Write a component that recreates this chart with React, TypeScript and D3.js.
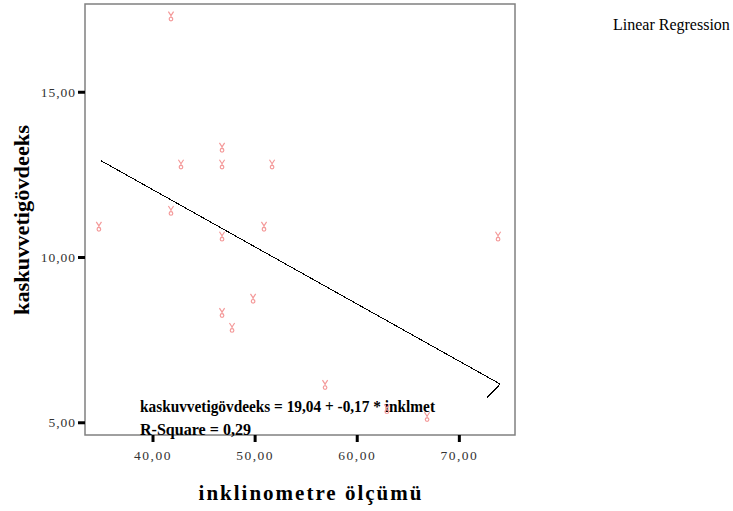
import React from "react";
import * as d3 from "d3";

const pointsX = [34.7, 41.76, 42.74, 41.76, 46.76, 46.76, 46.76, 51.66, 50.87, 49.8, 46.76, 47.74, 56.85, 62.9, 66.84, 73.79];
const pointsY = [10.94, 17.3, 12.82, 11.42, 13.33, 12.82, 10.64, 12.82, 10.94, 8.76, 8.33, 7.88, 6.15, 5.42, 5.18, 10.64];
const lineX = [34.9, 74.0, 72.7];
const lineY = [12.93, 6.17, 5.76];
const xTicks = [40, 50, 60, 70];
const yTicks = [5, 10, 15];
const fmt = (v: number) => v.toFixed(2).replace(".", ",");

const W = 733, H = 511;
const L = 85, R = 515, T = 4, B = 435;

export default function App() {
  const x = d3.scaleLinear().domain([33.34, 75.45]).range([L, R]);
  const y = d3.scaleLinear().domain([4.63, 17.67]).range([B, T]);
  const lineGen = d3.line<number>().x((d) => x(d)).y((_, i) => y(lineY[i]));
  const serif = "'Liberation Serif', 'Times New Roman', serif";
  const markerPath = "M-2.6,-4.6 L0,-0.6 L2.6,-4.6 M0,-0.6 L0,1 M-1.8,2.8 A1.8,1.8 0 1 0 1.8,2.8 A1.8,1.8 0 1 0 -1.8,2.8";
  return (
    <svg width={W} height={H} style={{ position: "absolute", left: 0, top: 0, background: "#fff" }} fontFamily={serif}>
      <rect x={L} y={T} width={R - L} height={B - T} fill="#fff" stroke="#808080" strokeWidth={1.5} />
      {yTicks.map((t) => (
        <g key={"y" + t}>
          <line x1={L - 7} x2={L} y1={y(t)} y2={y(t)} stroke="#000" strokeWidth={3} />
          <text x={L - 9} y={y(t)} dy="0.35em" textAnchor="end" fontSize={13.5} fill="#333" letterSpacing={1}>{fmt(t)}</text>
        </g>
      ))}
      {xTicks.map((t) => (
        <g key={"x" + t}>
          <line x1={x(t)} x2={x(t)} y1={B} y2={B + 7} stroke="#000" strokeWidth={3} />
          <text x={x(t)} y={460} textAnchor="middle" fontSize={13.5} fill="#333" letterSpacing={1.5}>{fmt(t)}</text>
        </g>
      ))}
      <path d={lineGen(lineX) || ""} fill="none" stroke="#000" strokeWidth={1} shapeRendering="crispEdges" />
      <text x={140} y={412} fontSize={16.5} fontWeight="bold" textLength={295} lengthAdjust="spacingAndGlyphs">kaskuvvetigövdeeks =  19,04 +  -0,17 * inklmet</text>
      <text x={140} y={435} fontSize={16.5} fontWeight="bold" textLength={111} lengthAdjust="spacingAndGlyphs">R-Square = 0,29</text>
      {pointsX.map((px, i) => (
        <path key={"p" + i} d={markerPath} transform={`translate(${x(px)},${y(pointsY[i])})`} fill="none" stroke="#f49a9a" strokeWidth={1.2} />
      ))}
      <text transform={`translate(29,220) rotate(-90)`} textAnchor="middle" fontSize={21} fontWeight="bold" textLength={190} lengthAdjust="spacingAndGlyphs">kaskuvvetigövdeeks</text>
      <text x={311} y={500} textAnchor="middle" fontSize={21} fontWeight="bold" letterSpacing={2}>inklinometre ölçümü</text>
      <text x={613} y={30} fontSize={16}>Linear Regression</text>
    </svg>
  );
}
